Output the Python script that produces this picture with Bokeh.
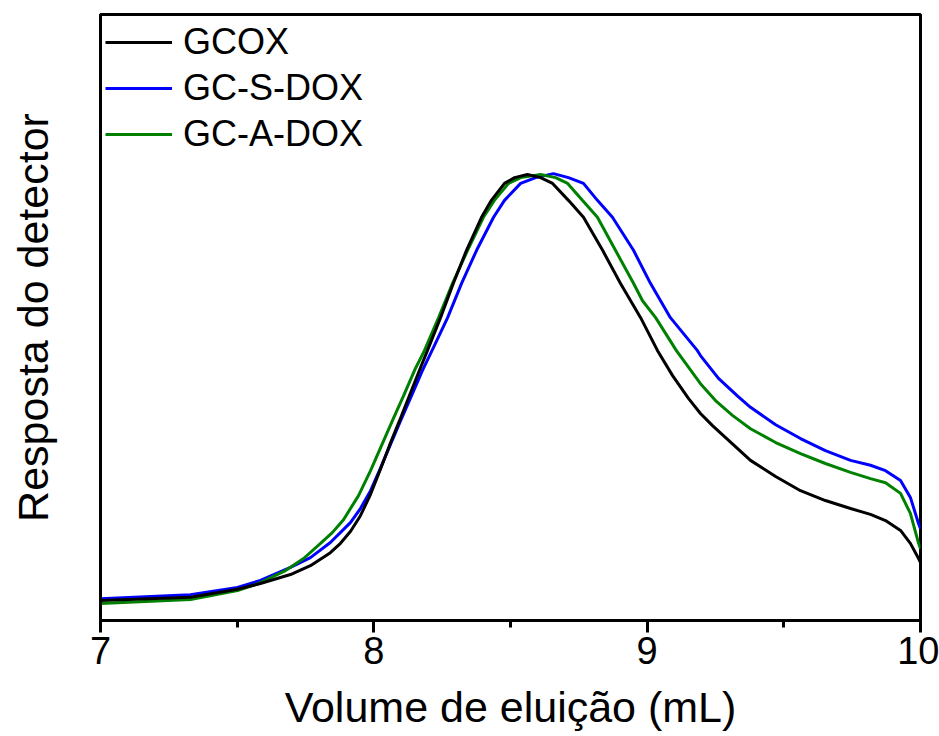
from bokeh.plotting import figure
from bokeh.models import FixedTicker, Range1d, Legend, LegendItem
from bokeh.embed import file_html
from bokeh.resources import INLINE

# GCOX (black)
x_gcox = [7.000, 7.329, 7.501, 7.585, 7.695, 7.768, 7.841, 7.878, 7.915, 7.951,
          7.988, 8.021, 8.057, 8.094, 8.130, 8.167, 8.196, 8.244, 8.291, 8.339,
          8.394, 8.430, 8.478, 8.515, 8.562, 8.610, 8.654, 8.712, 8.767, 8.837,
          8.902, 8.976, 9.038, 9.093, 9.151, 9.195, 9.239, 9.287, 9.378, 9.470,
          9.561, 9.652, 9.744, 9.817, 9.872, 9.927, 9.963, 9.993, 10.000]
y_gcox = [0.045, 0.052, 0.070, 0.083, 0.103, 0.123, 0.152, 0.173, 0.200, 0.235,
          0.283, 0.334, 0.392, 0.448, 0.504, 0.561, 0.605, 0.679, 0.756, 0.830,
          0.904, 0.942, 0.980, 0.993, 1.000, 0.993, 0.980, 0.942, 0.904, 0.830,
          0.756, 0.679, 0.605, 0.549, 0.498, 0.464, 0.437, 0.410, 0.359, 0.323,
          0.291, 0.269, 0.251, 0.238, 0.224, 0.202, 0.173, 0.139, 0.130]

# GC-S-DOX (blue)
x_gcs = [7.000, 7.329, 7.501, 7.585, 7.695, 7.768, 7.841, 7.915, 7.951, 7.988,
         8.024, 8.061, 8.098, 8.138, 8.178, 8.218, 8.270, 8.321, 8.376, 8.438,
         8.478, 8.537, 8.592, 8.657, 8.712, 8.767, 8.818, 8.873, 8.950, 9.012,
         9.049, 9.085, 9.184, 9.195, 9.261, 9.331, 9.378, 9.470, 9.561, 9.652,
         9.744, 9.817, 9.872, 9.927, 9.963, 9.993, 10.000]
y_gcs = [0.049, 0.058, 0.074, 0.090, 0.119, 0.141, 0.175, 0.220, 0.251, 0.291,
         0.341, 0.395, 0.448, 0.504, 0.561, 0.612, 0.679, 0.756, 0.830, 0.904,
         0.942, 0.980, 0.993, 1.002, 0.993, 0.980, 0.942, 0.904, 0.830, 0.756,
         0.717, 0.679, 0.605, 0.594, 0.543, 0.503, 0.478, 0.439, 0.408, 0.381,
         0.359, 0.348, 0.336, 0.314, 0.276, 0.217, 0.206]

# GC-A-DOX (green)
x_gca = [7.000, 7.329, 7.501, 7.578, 7.677, 7.743, 7.805, 7.848, 7.889, 7.944,
         7.988, 8.028, 8.068, 8.109, 8.149, 8.185, 8.237, 8.288, 8.343, 8.401,
         8.441, 8.493, 8.537, 8.610, 8.665, 8.709, 8.763, 8.818, 8.884, 8.950,
         8.983, 9.031, 9.107, 9.195, 9.250, 9.312, 9.378, 9.470, 9.561, 9.652,
         9.744, 9.817, 9.872, 9.927, 9.963, 9.993, 10.000]
y_gca = [0.038, 0.047, 0.067, 0.083, 0.112, 0.139, 0.173, 0.197, 0.226, 0.280,
         0.336, 0.392, 0.448, 0.504, 0.561, 0.605, 0.679, 0.756, 0.830, 0.904,
         0.942, 0.980, 0.993, 1.000, 0.993, 0.980, 0.942, 0.904, 0.830, 0.756,
         0.717, 0.679, 0.605, 0.531, 0.493, 0.460, 0.430, 0.399, 0.374, 0.352,
         0.332, 0.318, 0.309, 0.285, 0.240, 0.173, 0.161]

series_labels = ["GCOX", "GC-S-DOX", "GC-A-DOX"]
series_colors = ["#000000", "#0000ff", "#008000"]

x_ticks = [7, 8, 9, 10]
x_minor = [7.5, 8.5, 9.5]

x_title = "Volume de eluição (mL)"
y_title = "Resposta do detector"

FONT = "Liberation Sans"

p = figure(width=939, height=736, output_backend="svg", toolbar_location=None,
           x_range=Range1d(7, 10), y_range=Range1d(0, 1.3587),
           min_border_left=100, min_border_right=19, min_border_top=14,
           min_border_bottom=116)
p.background_fill_color = "white"
p.border_fill_color = "white"
p.grid.visible = False
p.outline_line_color = "black"
p.outline_line_width = 3

r_blue = p.line(x_gcs, y_gcs, line_color=series_colors[1], line_width=3)
r_green = p.line(x_gca, y_gca, line_color=series_colors[2], line_width=3)
r_black = p.line(x_gcox, y_gcox, line_color=series_colors[0], line_width=3)

xa = p.xaxis[0]
xa.ticker = FixedTicker(ticks=x_ticks, minor_ticks=x_minor)
xa.axis_line_width = 3
xa.axis_line_color = "black"
xa.major_tick_line_width = 3
xa.minor_tick_line_width = 3
xa.major_tick_out = 12
xa.major_tick_in = 0
xa.minor_tick_out = 7
xa.minor_tick_in = 0
xa.major_label_text_font = FONT
xa.major_label_text_font_size = "38px"
xa.major_label_text_color = "black"
xa.major_label_standoff = 4
xa.axis_label = x_title
xa.axis_label_text_font = FONT
xa.axis_label_text_font_size = "43px"
xa.axis_label_text_font_style = "normal"
xa.axis_label_text_color = "black"
xa.axis_label_standoff = 16

ya = p.yaxis[0]
ya.ticker = FixedTicker(ticks=[])
ya.axis_line_width = 3
ya.axis_line_color = "black"
ya.major_tick_line_color = None
ya.minor_tick_line_color = None
ya.major_label_standoff = 0
ya.axis_label = y_title
ya.axis_label_text_font = FONT
ya.axis_label_text_font_size = "43px"
ya.axis_label_text_font_style = "normal"
ya.axis_label_text_color = "black"
ya.axis_label_standoff = 44

legend = Legend(items=[
    LegendItem(label=series_labels[0], renderers=[r_black]),
    LegendItem(label=series_labels[1], renderers=[r_blue]),
    LegendItem(label=series_labels[2], renderers=[r_green]),
], location="top_left")
legend.margin = 5
legend.padding = 0
legend.spacing = 0
legend.glyph_width = 67
legend.glyph_height = 46
legend.label_height = 46
legend.label_standoff = 11
legend.label_text_font = FONT
legend.label_text_font_size = "36px"
legend.label_text_color = "black"
legend.border_line_color = None
legend.background_fill_alpha = 0
p.add_layout(legend)

open("out.html", "w").write(file_html(p, INLINE))
